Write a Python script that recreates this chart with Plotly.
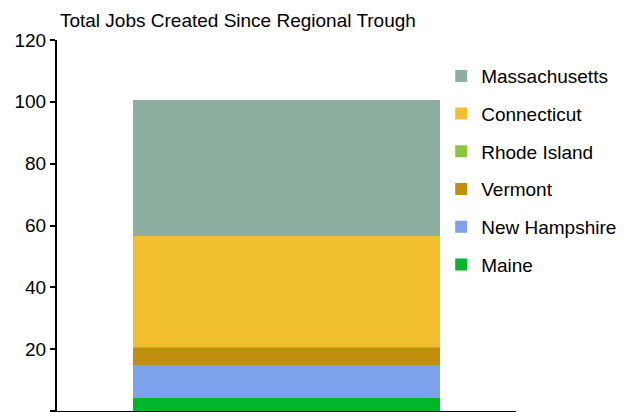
import plotly.graph_objects as go

# Total jobs created since regional trough (thousands), one stacked column
category = ["New England"]
states = ["Maine", "New Hampshire", "Vermont", "Rhode Island", "Connecticut", "Massachusetts"]
jobs = [4.3, 10.6, 5.6, 0.3, 35.9, 44.0]
colors = ["#00B62A", "#7CA2EB", "#C08F0D", "#8CC63E", "#F2BF31", "#8EAFA0"]

y_ticks = [0, 20, 40, 60, 80, 100, 120]

FONT = "Liberation Sans, Arial, sans-serif"

fig = go.Figure()

for i, (name, val, col) in enumerate(zip(states, jobs, colors)):
    fig.add_trace(
        go.Bar(
            x=category,
            y=[val],
            name=name,
            marker=dict(color=col, line=dict(width=0)),
            legendgroup=name,
            legendrank=len(states) - i,  # top of stack first in legend
        )
    )

# page body adds ~8px offset, so positions are shifted up/left
fig.update_layout(
    barmode="stack",
    bargap=0.33,
    width=626,
    height=412,
    plot_bgcolor="white",
    paper_bgcolor="white",
    font=dict(family=FONT, size=19, color="black"),
    margin=dict(l=49, r=118, t=32, b=9, autoexpand=False),
    title=dict(
        text="Total Jobs Created Since Regional Trough",
        x=0.083, xanchor="left",
        y=0.971, yanchor="middle",
        xref="container", yref="container",
        font=dict(family=FONT, size=19, color="black"),
    ),
    legend=dict(
        traceorder="grouped",
        x=0.692, xref="container", xanchor="left",
        y=0.881, yref="container", yanchor="top",
        tracegroupgap=10,
        maxheight=400,
        font=dict(family=FONT, size=19, color="black"),
        bgcolor="rgba(0,0,0,0)",
    ),
    showlegend=True,
)

fig.update_xaxes(
    showticklabels=False,
    showline=True,
    linecolor="black",
    linewidth=2,
    ticks="",
    showgrid=False,
)
fig.update_yaxes(
    range=[0, 120],
    tickvals=y_ticks,
    showline=True,
    linecolor="black",
    linewidth=2,
    ticks="outside",
    ticklen=5,
    tickwidth=2,
    tickcolor="black",
    showgrid=False,
    zeroline=False,
)

fig.write_html("out.html")
